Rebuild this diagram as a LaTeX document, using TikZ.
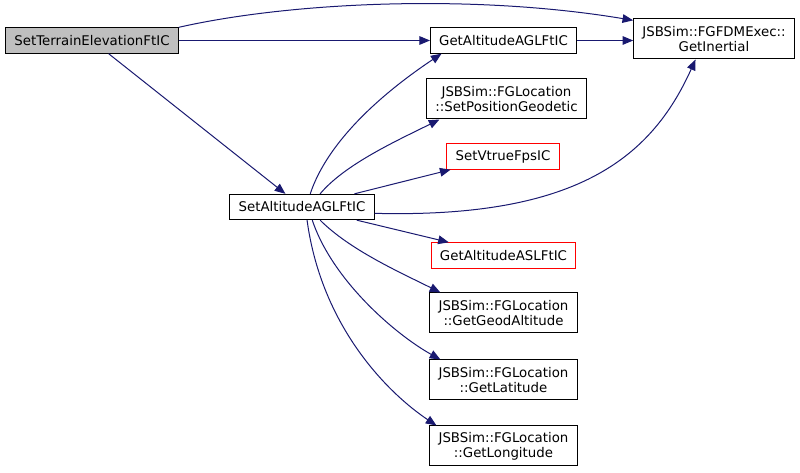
\documentclass[tikz,border=0pt]{standalone}
\usepackage{fontspec}
\setsansfont{DejaVu Sans}
\usetikzlibrary{arrows.meta}
\definecolor{edgeblue}{HTML}{191970}
\definecolor{callgray}{HTML}{BFBFBF}

\begin{document}
\begin{tikzpicture}[x=0.75pt,y=-0.75pt,
    every node/.style={font=\sffamily\fontsize{10}{11.5}\selectfont},
    fn/.style={draw=black,line width=0.75pt,align=center,inner xsep=6.5pt,inner ysep=1pt,minimum height=19pt},
    fntwo/.style={fn,minimum height=30pt},
    fnred/.style={fn,draw=red},
    call/.style={draw=edgeblue,line width=0.75pt,-{Triangle[length=8pt,width=6.5pt]}}]
    \useasboundingbox (0,0) rectangle (800,473);

    \node[fn,fill=callgray] (stf) at (92,40.5) {SetTerrainElevationFtIC};
    \node[fn] (gagl) at (503.5,40.5) {GetAltitudeAGLFtIC};
    \node[fntwo] (inert) at (714,39) {JSBSim::FGFDMExec::\\GetInertial};
    \node[fntwo] (spg) at (506.5,99) {JSBSim::FGLocation\\::SetPositionGeodetic};
    \node[fnred] (svt) at (503,156.5) {SetVtrueFpsIC};
    \node[fn] (sagl) at (302,207) {SetAltitudeAGLFtIC};
    \node[fnred] (gasl) at (503.5,255.5) {GetAltitudeASLFtIC};
    \node[fntwo] (ggeo) at (503.5,313) {JSBSim::FGLocation\\::GetGeodAltitude};
    \node[fntwo] (glat) at (503.5,380) {JSBSim::FGLocation\\::GetLatitude};
    \node[fntwo] (glon) at (503.5,446) {JSBSim::FGLocation\\::GetLongitude};

    % calls from SetTerrainElevationFtIC
    \draw[call] (stf) -- (gagl);
    \draw[call] (stf.north east) .. controls +(110,-25) and +(-162,-27) .. (inert.167);
    \draw[call] (stf) -- (sagl);
    \draw[call] (gagl.east) -- (gagl.east -| inert.west);

    % calls from SetAltitudeAGLFtIC
    \draw[call] (sagl.58) .. controls +(20,-60) and +(-45,30) .. (gagl.192);
    \draw[call] (sagl.36) .. controls +(25,-30) and +(-40,20) .. (spg.197);
    \draw[call] (sagl) -- (svt);
    \draw[call] (sagl.-5) .. controls +(200,5) and +(-45,100) .. (inert.228);
    \draw[call] (sagl) -- (gasl);
    \draw[call] (sagl.-36) .. controls +(30,30) and +(-40,-20) .. (ggeo.162);
    \draw[call] (sagl.-52) .. controls +(20,60) and +(-45,-25) .. (glat.162);
    \draw[call] (sagl.-69) .. controls +(15,110) and +(-45,-30) .. (glon.163);
\end{tikzpicture}
\end{document}
